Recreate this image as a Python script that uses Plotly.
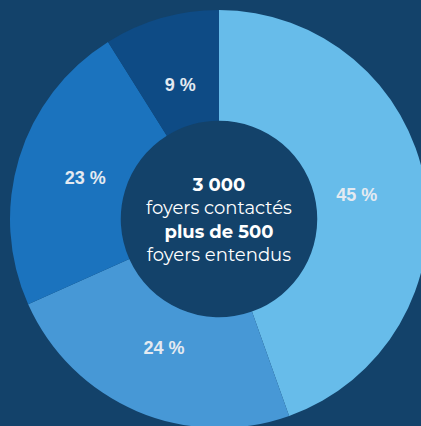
import plotly.graph_objects as go

labels = ["A", "B", "C", "D"]
values = [45, 24, 23, 9]
text_labels = ["45 %", "24 %", "23 %", "9 %"]
colors = ["#67BCEA", "#4798D6", "#1B73BE", "#0E4B85"]
bg = "#13426A"

W, H = 440, 440
cx, cy, R = 219, 219, 209
R2 = 177  # radius of the (invisible) label ring


def dom(r):
    return dict(x=[(cx - r) / W, (cx + r) / W], y=[(H - cy - r) / H, (H - cy + r) / H])


fig = go.Figure()
# coloured ring
fig.add_trace(go.Pie(
    labels=labels,
    values=values,
    textinfo="none",
    hole=0.47,
    sort=False,
    direction="clockwise",
    rotation=0,
    marker=dict(colors=colors, line=dict(width=0)),
    domain=dom(R),
    showlegend=False,
    hoverinfo="skip",
))
# percentage labels (same slices, transparent, labels placed nearer the centre)
fig.add_trace(go.Pie(
    labels=labels,
    values=values,
    text=text_labels,
    textinfo="text",
    textposition="inside",
    insidetextorientation="horizontal",
    hole=0.58,
    sort=False,
    direction="clockwise",
    rotation=0,
    marker=dict(colors=["rgba(0,0,0,0)"] * len(values), line=dict(width=0)),
    textfont=dict(family="Liberation Sans, Arial, sans-serif", size=18, color="#E4EAF1", weight="bold"),
    domain=dom(R2),
    showlegend=False,
    hoverinfo="skip",
))

fig.add_annotation(
    x=cx / W, y=1 - 220 / H, xref="paper", yref="paper",
    text="<b>3 000</b><br>foyers contactés<br><b>plus de 500</b><br>foyers entendus",
    showarrow=False,
    font=dict(family="Montserrat, Open Sans, sans-serif", size=18, color="#FFFFFF"),
    align="center",
)

fig.update_layout(
    width=W, height=H,
    margin=dict(l=0, r=0, t=0, b=0),
    paper_bgcolor=bg,
    plot_bgcolor=bg,
    uniformtext=dict(minsize=18, mode="show"),
)

fig.write_html("out.html", config={"displayModeBar": False},
               post_script="document.body.style.margin='0';document.body.style.overflow='hidden';document.documentElement.style.overflow='hidden';")
